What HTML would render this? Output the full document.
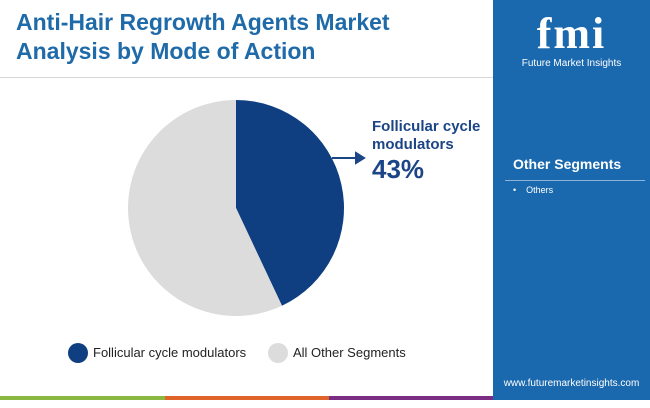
<!DOCTYPE html>
<html><head><meta charset="utf-8"><style>
body{margin:0;width:650px;height:400px;overflow:hidden;background:#fff;font-family:"Liberation Sans",sans-serif;position:relative}
.title{position:absolute;left:16px;top:8px;font-size:23px;font-weight:bold;color:#1f6aa8;line-height:29px}
.side{position:absolute;left:493px;top:0;width:157px;height:400px;background:#1a68ad}
</style></head><body>
<div class="title">Anti-Hair Regrowth Agents Market<br>Analysis by Mode of Action</div>
<div style="position:absolute;left:0;top:77px;width:493px;height:1px;background:#d8d8d8"></div>
<div class="side">
 <div style="position:absolute;left:0;top:8px;width:157px;text-align:center;color:#fff;font-size:44px;font-weight:bold;font-family:'Liberation Serif',serif;letter-spacing:2px">fmi</div>
 <div style="position:absolute;left:0;top:58px;width:157px;text-align:center;color:#fff;font-size:10px">Future Market Insights</div>
 <div style="position:absolute;left:20px;top:156px;color:#fff;font-size:14px;font-weight:bold">Other Segments</div>
 <div style="position:absolute;left:12px;top:180px;width:140px;height:1px;background:#8fb3d6"></div>
 <div style="position:absolute;left:20px;top:185px;color:#fff;font-size:9px">•&nbsp;&nbsp;&nbsp;&nbsp;Others</div>
 <div style="position:absolute;left:0;top:378px;width:157px;text-align:center;color:#fff;font-size:10px">www.futuremarketinsights.com</div>
</div>
<svg id="pie" width="493" height="330" style="position:absolute;left:0;top:78px"></svg>
<div style="position:absolute;left:372px;top:118px;color:#1b4586;font-weight:bold;font-size:15px;line-height:18px">Follicular cycle<br>modulators<br><span style="font-size:26px;line-height:30px">43%</span></div>
<div style="position:absolute;left:68px;top:343px;width:20px;height:20px;border-radius:50%;background:#0f3f80"></div>
<div style="position:absolute;left:93px;top:345px;font-size:13px;color:#222">Follicular cycle modulators</div>
<div style="position:absolute;left:268px;top:343px;width:20px;height:20px;border-radius:50%;background:#dcdcdc"></div>
<div style="position:absolute;left:293px;top:345px;font-size:13px;color:#222">All Other Segments</div>
<div style="position:absolute;left:0;top:396px;width:165px;height:4px;background:#8ab840"></div>
<div style="position:absolute;left:165px;top:396px;width:164px;height:4px;background:#e0632a"></div>
<div style="position:absolute;left:329px;top:396px;width:164px;height:4px;background:#7b2d83"></div>
<script>
const categories=["Follicular cycle modulators","All Other Segments"];
const values=[43,57];
const colors=["#0f3f80","#dcdcdc"];
const svg=document.getElementById('pie');const NS="http://www.w3.org/2000/svg";
const cx=236,cy=130,r=108;const total=values.reduce((a,b)=>a+b,0);
let a0=0;
values.forEach((v,i)=>{const a1=a0+v/total*2*Math.PI;
const x0=cx+r*Math.sin(a0),y0=cy-r*Math.cos(a0),x1=cx+r*Math.sin(a1),y1=cy-r*Math.cos(a1);
const p=document.createElementNS(NS,'path');
p.setAttribute('d',`M${cx},${cy}L${x0},${y0}A${r},${r} 0 ${a1-a0>Math.PI?1:0} 1 ${x1},${y1}Z`);
p.setAttribute('fill',colors[i]);


svg.appendChild(p);a0=a1;});
const ar=document.createElementNS(NS,'path');
ar.setAttribute('d','M332,80L362,80M356,75L364,80L356,85Z');
ar.setAttribute('stroke','#1b4586');ar.setAttribute('stroke-width','2');ar.setAttribute('fill','#1b4586');


svg.appendChild(ar);
</script>
</body></html>
